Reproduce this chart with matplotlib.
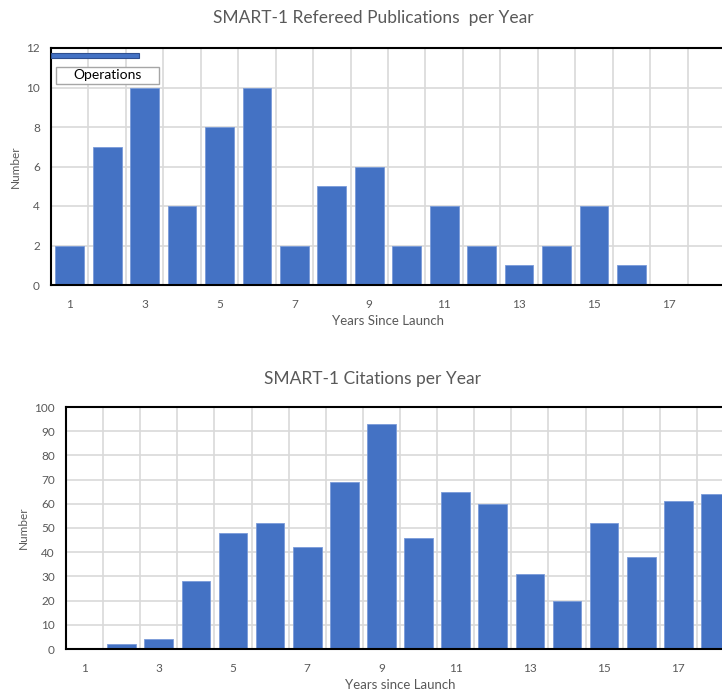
import matplotlib
matplotlib.use("Agg")
import matplotlib.pyplot as plt
from matplotlib.patches import Rectangle
import numpy as np

plt.rcParams['font.family'] = ['Lato', 'DejaVu Sans']

years = list(range(1, 19))
publications = [2, 7, 10, 4, 8, 10, 2, 5, 6, 2, 4, 2, 1, 2, 4, 1, 0, 0]
citations = [0, 2, 4, 28, 48, 52, 42, 69, 93, 46, 65, 60, 31, 20, 52, 38, 61, 64]
xtick_labels = [str(v) for v in range(1, 18, 2)]
ops_start, ops_end = 0.5, 2.85

BAR = '#4472C4'
GRID = '#d9d9d9'
TXT = '#595959'

fig = plt.figure(figsize=(7.22, 6.97), dpi=100)
W, H = 722, 697

def style(ax, ymax, ystep):
    ax.set_xlim(0.5, 18.5)
    ax.set_ylim(0, ymax)
    ax.set_yticks(np.arange(0, ymax + 1, ystep))
    ax.set_xticks(range(1, 18, 2))
    ax.set_xticklabels(xtick_labels)
    ax.set_xticks(np.arange(0.5, 19, 1), minor=True)
    ax.grid(True, which='minor', axis='x', color=GRID, lw=1.2)
    ax.grid(True, which='major', axis='y', color=GRID, lw=1.2)
    ax.set_axisbelow(True)
    ax.tick_params(axis='both', which='both', length=0, colors=TXT, labelsize=8.5)
    ax.tick_params(axis='x', pad=10)
    ax.tick_params(axis='y', pad=8)
    for s in ax.spines.values():
        s.set_color('black')
        s.set_linewidth(1.5)
    ax.spines['right'].set_visible(False)

# top chart
ax1 = fig.add_axes([51 / W, (H - 285) / H, 674 / W, 237 / H])
ax1.bar(years, publications, width=0.77, color=BAR, edgecolor='#7a9bd9', linewidth=0.6, zorder=2)
style(ax1, 12, 2)
fig.text(373 / W, 1 - 18 / H, 'SMART-1 Refereed Publications  per Year', ha='center', va='center',
         fontsize=12.5, color=TXT)
ax1.set_xlabel('Years Since Launch', fontsize=9.5, color=TXT, labelpad=4)
ax1.set_ylabel('Number', fontsize=8.5, color=TXT, labelpad=4)
ax1.barh([11.6], [ops_end - ops_start], left=ops_start, height=0.25,
         color=BAR, edgecolor='#2f4f8f', linewidth=0.8, zorder=3)
ax1.add_patch(Rectangle((0.635, 10.18), 2.76, 0.86, facecolor='white', edgecolor='#a6a6a6',
                        lw=1, zorder=4))
ax1.text(2.02, 10.62, 'Operations', ha='center', va='center', fontsize=10, color='black', zorder=5)

# bottom chart
ax2 = fig.add_axes([66 / W, (H - 649) / H, 668 / W, 242 / H])
ax2.bar(years, citations, width=0.77, color=BAR, edgecolor='#7a9bd9', linewidth=0.6, zorder=2)
style(ax2, 100, 10)
fig.text(373 / W, 1 - 379 / H, 'SMART-1 Citations per Year', ha='center', va='center',
         fontsize=12.5, color=TXT)
ax2.set_xlabel('Years since Launch', fontsize=9.5, color=TXT, labelpad=4)
ax2.set_ylabel('Number', fontsize=8.5, color=TXT, labelpad=4)

fig.savefig('out.png', dpi=100)
